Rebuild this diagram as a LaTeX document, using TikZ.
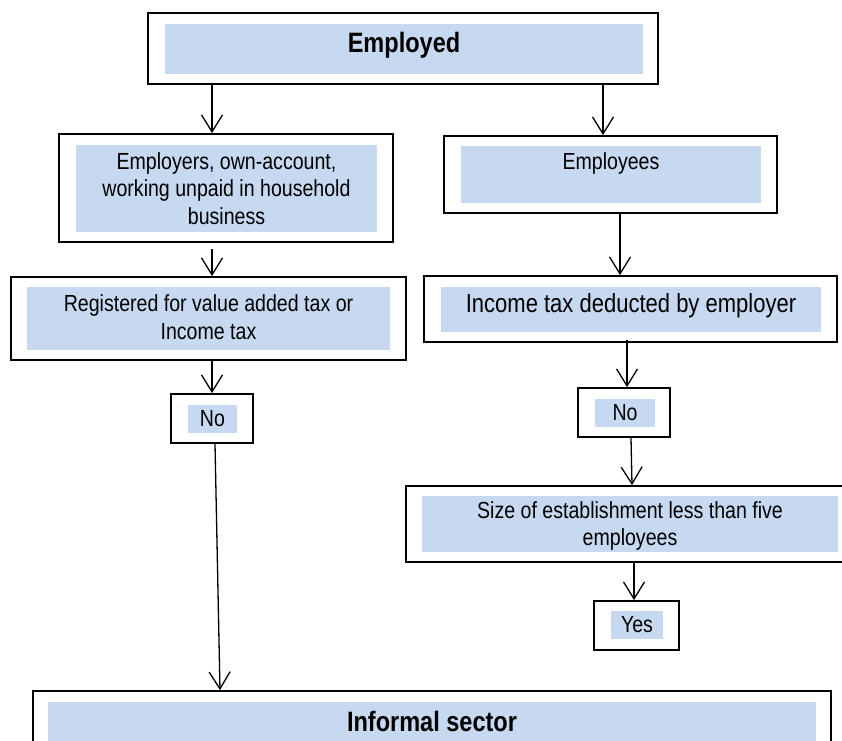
\documentclass[tikz,border=0pt]{standalone}
\usepackage{fontspec}
\setmainfont[FakeStretch=0.84]{Liberation Sans}
\usetikzlibrary{arrows.meta}
\definecolor{boxfill}{RGB}{198,217,240}
\begin{document}
\begin{tikzpicture}[x=1pt,y=-1pt,
  outerbox/.style 2 args={draw=black, line width=1.8pt, fill=white, minimum width=#1, minimum height=#2, inner sep=0pt},
  innerbox/.style 2 args={fill=boxfill, minimum width=#1, minimum height=#2, inner sep=0pt, align=center, font=\fontsize{23.3}{27.5}\selectfont},
  label/.style={inner sep=0pt, align=center},
  bigtext/.style={font=\fontsize{28}{32}\selectfont\bfseries},
  midtext/.style={font=\fontsize{26.2}{30}\selectfont},
  conn/.style={line width=1.3pt, -{Straight Barb[length=17pt,width=21pt,line width=1.3pt]}}]
\clip (0,0) rectangle (842,740);
\useasboundingbox (0,0) rectangle (842,740);
% Employed
\node[outerbox={510}{71}] (empO) at (403,48.5) {};
\node[innerbox={478}{50}] (emp) at (404,49) {};
\node[label, bigtext] (empT) at (404,45.5) {Employed};
% Employers
\node[outerbox={334}{108}] (ersO) at (226,188) {};
\node[innerbox={301}{87}] (ers) at (226.5,188.5) {Employers, own-account,\\working unpaid in household\\business};
% Employees
\node[outerbox={333}{77}] (eesO) at (610.5,174.5) {};
\node[innerbox={300}{57}] (ees) at (611,174.5) {Employees\\\mbox{}};
% Registered
\node[outerbox={395}{83}] (regO) at (208.5,318.5) {};
\node[innerbox={363}{63}] (reg) at (208.5,318.5) {};
\node[label, font=\fontsize{23.3}{27.5}\selectfont] (regT) at (208.5,317) {Registered for value added tax or\\Income tax};
% Income tax
\node[outerbox={413}{66}] (incO) at (630.5,309) {};
\node[innerbox={380}{45}] (inc) at (631,309.5) {};
\node[label, midtext] (incT) at (631,305.5) {Income tax deducted by employer};
% No left
\node[outerbox={82}{49}] (noLO) at (212,418.5) {};
\node[innerbox={49}{28}] (noL) at (212.5,419) {No};
% No right
\node[outerbox={92}{49}] (noRO) at (624,412.5) {};
\node[innerbox={60}{28}] (noR) at (625,413) {No};
% Size
\node[outerbox={444}{76}] (sizeO) at (628,524) {};
\node[innerbox={416}{56}] (size) at (630,524) {};
\node[label, font=\fontsize{23.3}{27.5}\selectfont] (sizeT) at (630,526) {Size of establishment less than five\\employees};
% Yes
\node[outerbox={85}{49}] (yesO) at (636.5,625.5) {};
\node[innerbox={52}{28}] (yes) at (637,625) {Yes};
% Informal sector
\node[outerbox={798}{70}] (infO) at (432,726) {};
\node[innerbox={768}{48}] (inf) at (432,726) {};
\node[label, bigtext] (infT) at (432,721) {Informal sector};
% connectors
\draw[conn] ([xshift=-191pt]empO.south) -- ([xshift=-191pt]empO.south |- ersO.north);
\draw[conn] ([xshift=200pt]empO.south) -- ([xshift=200pt]empO.south |- eesO.north);
\draw[conn] ([xshift=-14pt,yshift=-6pt]ersO.south) -- ([xshift=-14pt]ersO.south |- regO.north);
\draw[conn] ([xshift=9.5pt]eesO.south) -- ([xshift=9.5pt]eesO.south |- incO.north);
\draw[conn] ([xshift=3.5pt]regO.south) -- ([xshift=3.5pt]regO.south |- noLO.north);
\draw[conn] ([xshift=-3.5pt,yshift=3pt]incO.south) -- ([xshift=3pt]noRO.north);
\draw[conn] ([xshift=7pt]noRO.south) -- ([xshift=4pt]sizeO.north);
\draw[conn] ([xshift=6pt]sizeO.south) -- ([xshift=-2.5pt]yesO.north);
\draw[conn] ([xshift=3pt]noLO.south) -- ([xshift=-212pt]infO.north);
\end{tikzpicture}
\end{document}
